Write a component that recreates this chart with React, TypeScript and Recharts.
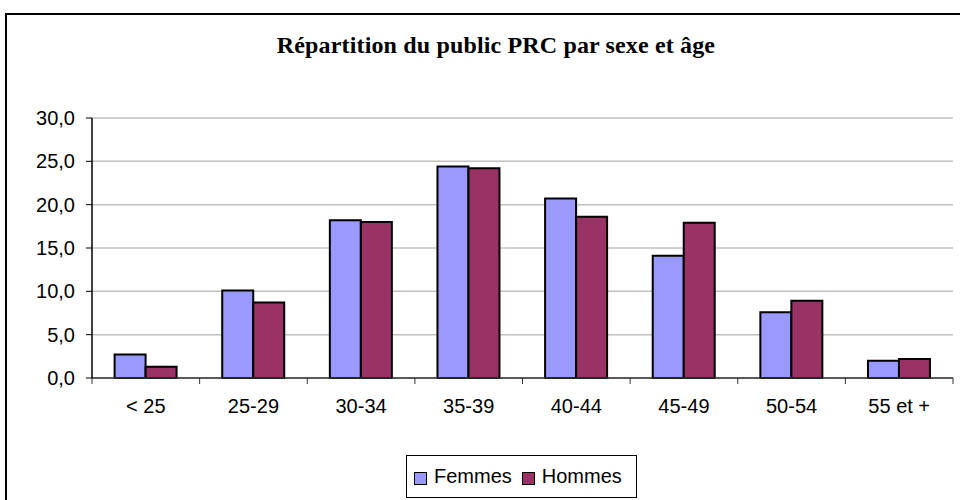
import React from "react";
import { BarChart, Bar, XAxis, YAxis, CartesianGrid, Legend } from "recharts";

const categories = ["< 25", "25-29", "30-34", "35-39", "40-44", "45-49", "50-54", "55 et +"];
const femmes = [2.7, 10.1, 18.2, 24.4, 20.7, 14.1, 7.6, 2.0];
const hommes = [1.3, 8.7, 18.0, 24.2, 18.6, 17.9, 8.9, 2.2];
const yTicks = [0, 5, 10, 15, 20, 25, 30];

const data = categories.map((age, i) => ({ age, Femmes: femmes[i], Hommes: hommes[i] }));

const FEMMES = "#9999FF";
const HOMMES = "#993366";

// category label plus Excel-style tick marks between the categories
function AgeTick(props: any) {
    const { x, y, payload, index, visibleTicksCount } = props;
    const half = payload.offset || 0;
    const last = index === visibleTicksCount - 1;
    return (
        <g>
            <line x1={x - half} x2={x - half} y1={y} y2={y + 6} stroke="#333" />
            {last && <line x1={x + half} x2={x + half} y1={y} y2={y + 6} stroke="#333" />}
            <text x={x} y={y + 21} dy="0.71em" textAnchor="middle" fontSize={20} fill="#000">
                {payload.value}
            </text>
        </g>
    );
}

function LegendBox() {
    const items = [
        { name: "Femmes", color: FEMMES },
        { name: "Hommes", color: HOMMES },
    ];
    return (
        <div
            style={{
                border: "1px solid #000",
                height: "100%",
                boxSizing: "border-box",
                display: "flex",
                alignItems: "center",
                paddingLeft: 7,
                fontSize: 20,
            }}
        >
            {items.map((it) => (
                <span key={it.name} style={{ display: "flex", alignItems: "center", marginRight: 10 }}>
                    <span
                        style={{
                            width: 11,
                            height: 11,
                            background: it.color,
                            border: "1.5px solid #000",
                            marginRight: 7,
                            marginTop: 4,
                        }}
                    />
                    {it.name}
                </span>
            ))}
        </div>
    );
}

export default function App() {
    return (
        <div
            style={{
                position: "fixed",
                left: 0,
                top: 0,
                width: 960,
                height: 500,
                overflow: "hidden",
                background: "#fff",
                fontFamily: "'Liberation Sans', Arial, sans-serif",
            }}
        >
            <div
                style={{
                    position: "absolute",
                    left: 5,
                    top: 13,
                    width: 1000,
                    height: 600,
                    border: "2px solid #000",
                }}
            />
            <div
                style={{
                    position: "absolute",
                    left: 0,
                    width: 992,
                    top: 32,
                    textAlign: "center",
                    fontFamily: "'Liberation Serif', 'Times New Roman', serif",
                    fontWeight: "bold",
                    fontSize: 24,
                    letterSpacing: 0.15,
                }}
            >
                Répartition du public PRC par sexe et âge
            </div>
            <div style={{ position: "absolute", left: 0, top: 0 }}>
                <BarChart
                    width={960}
                    height={500}
                    data={data}
                    margin={{ top: 118, right: 7, left: 32, bottom: 92 }}
                    barCategoryGap="21%"
                    barGap={0}
                >
                    <CartesianGrid vertical={false} stroke="#c0c0c0" strokeWidth={1.5} />
                    <XAxis
                        dataKey="age"
                        height={30}
                        axisLine={{ stroke: "#333", strokeWidth: 1.5 }}
                        tickLine={false}
                        tickSize={0}
                        tickMargin={0}
                        interval={0}
                        tick={<AgeTick />}
                    />
                    <YAxis
                        width={60}
                        domain={[0, 30]}
                        ticks={yTicks}
                        interval={0}
                        axisLine={{ stroke: "#000", strokeWidth: 1.5 }}
                        tickLine={{ stroke: "#000" }}
                        tickSize={6}
                        tickMargin={11}
                        tick={{ fill: "#000", fontSize: 20 }}
                        tickFormatter={(v: number) => v.toFixed(1).replace(".", ",")}
                    />
                    <YAxis
                        yAxisId="frame"
                        orientation="right"
                        width={0}
                        domain={[0, 30]}
                        tick={false}
                        tickLine={false}
                        axisLine={{ stroke: "#999", strokeWidth: 1.5 }}
                    />
                    <Legend
                        layout="horizontal"
                        verticalAlign="middle"
                        align="center"
                        content={() => <LegendBox />}
                        wrapperStyle={{ position: "absolute", left: 406, top: 455, width: 231, height: 43 }}
                    />
                    <Bar dataKey="Femmes" fill={FEMMES} stroke="#000" strokeWidth={2} isAnimationActive={false} />
                    <Bar dataKey="Hommes" fill={HOMMES} stroke="#000" strokeWidth={2} isAnimationActive={false} />
                </BarChart>
            </div>
        </div>
    );
}
